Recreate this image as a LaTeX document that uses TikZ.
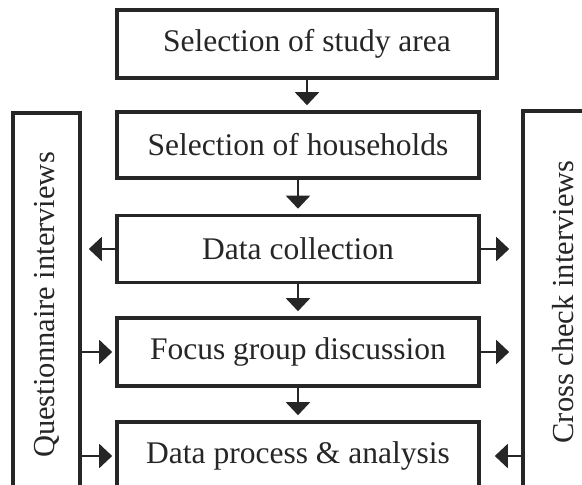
\documentclass[tikz,border=0pt]{standalone}
\usepackage{fontspec}
\setmainfont{Liberation Serif}
\usetikzlibrary{arrows.meta}
\begin{document}
\begin{tikzpicture}[x=1pt,y=-1pt,
  box/.style={draw=black!85, line width=3.6pt, fill=white, inner sep=0pt, font=\fontsize{31.5}{34}\selectfont, text=black!85},
  side/.style={box, font=\fontsize{30.5}{33}\selectfont},
  conn/.style={line width=2pt, draw=black!85, -{Triangle[length=13pt,width=24pt]}}]
\useasboundingbox (0,0) rectangle (582,485);
\clip (0,0) rectangle (582,485);
\node[box, minimum width=380pt, minimum height=68pt] (b1) at (307,44) {Selection of study area};
\node[box, minimum width=362pt, minimum height=66pt] (b2) at (298,145) {Selection of households};
\node[box, minimum width=362pt, minimum height=67pt] (b3) at (298,249) {Data collection};
\node[box, minimum width=362pt, minimum height=68pt] (b4) at (298,352) {Focus group discussion};
\node[box, minimum width=362pt, minimum height=68pt] (b5) at (298,456) {Data process \& analysis};
\node[side, minimum width=67pt, minimum height=384pt] (lq) at (46.5,305) {\rotatebox{90}{Questionnaire interviews}};
\node[side, minimum width=80pt, minimum height=382pt] (rq) at (563,302) {\rotatebox{90}{Cross check interviews}};
\draw[conn, shorten >=5pt] (b1.south) -- (b1.south |- b2.north);
\draw[conn, shorten >=5pt] (b2.south) -- (b3.north);
\draw[conn, shorten >=5pt] (b3.south) -- (b4.north);
\draw[conn, shorten >=5pt] (b4.south) -- (b5.north);
\draw[conn, shorten >=7pt] (b3.west) -- (b3.west -| lq.east);
\draw[conn, shorten >=3pt] (lq.east |- b4.west) -- (b4.west);
\draw[conn, shorten >=3pt] (lq.east |- b5.west) -- (b5.west);
\draw[conn, shorten >=12pt] (b3.east) -- (b3.east -| rq.west);
\draw[conn, shorten >=12pt] (b4.east) -- (b4.east -| rq.west);
\draw[conn, shorten >=14pt] (rq.west |- b5.east) -- (b5.east);
\end{tikzpicture}
\end{document}
